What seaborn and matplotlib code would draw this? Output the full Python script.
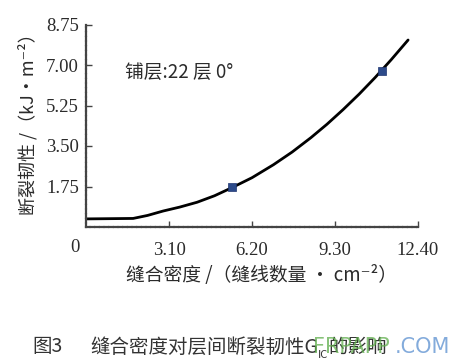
import matplotlib
matplotlib.use("Agg")
import matplotlib.pyplot as plt
import seaborn as sns
import pandas as pd

# fitted curve
curve_x = [0.0, 1.76, 2.3, 2.88, 3.5, 4.15, 4.8, 5.45, 6.2, 7.0, 7.7, 8.4, 9.0, 9.6, 10.2, 10.8, 11.4, 12.03]
curve_y = [0.35, 0.37, 0.50, 0.69, 0.86, 1.07, 1.35, 1.70, 2.13, 2.69, 3.24, 3.86, 4.44, 5.07, 5.74, 6.46, 7.23, 8.08]
# measured points
point_x = [5.45, 11.06]
point_y = [1.73, 6.76]

xticks = [3.10, 6.20, 9.30, 12.40]
xtick_labels = ["3.10", "6.20", "9.30", "12.40"]
yticks = [1.75, 3.50, 5.25, 7.00, 8.75]
ytick_labels = ["1.75", "3.50", "5.25", "7.00", "8.75"]

sns.set_style("ticks")
plt.rcParams["font.family"] = ["Noto Sans CJK SC", "DejaVu Sans"]

cjk = ["Noto Sans CJK SC", "DejaVu Sans"]
num_font = "Liberation Serif"
txt_color = "#2b2b2b"

fig = plt.figure(figsize=(4.72, 3.6), dpi=100)
ax = fig.add_axes([86 / 472, 1 - 227 / 360, 332 / 472, 202.5 / 360])

curve = pd.DataFrame({"x": curve_x, "y": curve_y})
points = pd.DataFrame({"x": point_x, "y": point_y})
sns.lineplot(data=curve, x="x", y="y", ax=ax, color="black", linewidth=2.0, sort=False)
sns.scatterplot(data=points, x="x", y="y", ax=ax, color="#2c4a8a", marker="s",
                s=40, edgecolor="#1f3570", linewidth=0.5, zorder=5)

ax.set_xlim(0, 12.4)
ax.set_ylim(0, 8.75)
ax.set_xticks(xticks)
ax.set_xticklabels(xtick_labels, fontfamily=num_font, fontsize=13.5, color=txt_color)
ax.set_yticks(yticks)
ax.set_yticklabels(ytick_labels, fontfamily=num_font, fontsize=13.5, color=txt_color)
ax.tick_params(direction="in", length=4, width=1, color="#444444")
ax.tick_params(axis="x", pad=11)
ax.tick_params(axis="y", pad=5)
for side in ["top", "right"]:
    ax.spines[side].set_visible(False)
for side in ["left", "bottom"]:
    ax.spines[side].set_color("#444444")
    ax.spines[side].set_linewidth(1.6)
    ax.spines[side].set_linestyle((0, (1.5, 0.6)))

ax.set_xlabel("")
ax.set_ylabel("")
ax.text(-0.033, -0.1, "0", transform=ax.transAxes, ha="center", va="center",
        fontfamily=num_font, fontsize=13.5, color=txt_color)
ax.text(0.117, 0.765, "铺层:22 层 0°", transform=ax.transAxes, ha="left", va="center",
        family=cjk, fontsize=13.5, color=txt_color)

fig.text(28 / 472, 1 - 120 / 360, "断裂韧性 /（kJ•m⁻²）", rotation=90, ha="center",
         va="center", family=cjk, fontsize=13, color=txt_color)
fig.text(262 / 472, 1 - 276 / 360, "缝合密度 /（缝线数量 • cm⁻²）", ha="center",
         va="center", family=cjk, fontsize=13.5, color=txt_color)

# caption with subscript
cap_y = 1 - 347 / 360
cap_color = "#333333"
fig.text(32 / 472, cap_y, "图3", ha="left", va="center", family=cjk, fontsize=14, color=cap_color)
t1 = fig.text(90 / 472, cap_y, "缝合密度对层间断裂韧性G", ha="left", va="center",
              family=cjk, fontsize=14, color=cap_color)
sub = ax.annotate("IC", xy=(1, 0.12), xycoords=t1, ha="left", va="center",
                  family=cjk, fontsize=8, color=cap_color, annotation_clip=False)
ax.annotate("的影响", xy=(1, 0.5), xycoords=(sub, t1), ha="left", va="center",
            family=cjk, fontsize=14, color=cap_color, annotation_clip=False)

# site watermark
fig.text(313 / 472, cap_y, "FRPAPP", ha="left", va="center", fontfamily="DejaVu Sans",
         fontsize=15, color="#5fae4c", alpha=0.75)
fig.text(395 / 472, cap_y, ".COM", ha="left", va="center", fontfamily="DejaVu Sans",
         fontsize=15, color="#5a8fd0", alpha=0.75)

fig.savefig("out.png", dpi=100)
